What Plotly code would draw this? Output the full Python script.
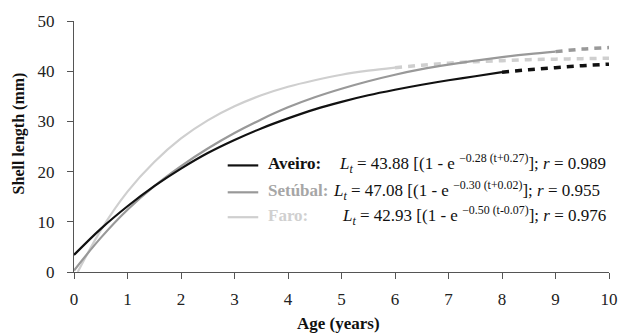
import plotly.graph_objects as go

# ---- data ----
aveiro_age = [0, 0.5, 1, 1.5, 2, 2.5, 3, 3.5, 4, 4.5, 5, 5.5, 6, 6.5, 7, 7.5, 8]
aveiro_len = [3.4, 8.6, 13.1, 17.1, 20.6, 23.7, 26.3, 28.6, 30.6, 32.4, 33.9, 35.2, 36.3, 37.3, 38.2, 39.0, 39.8]
aveiro_ext_age = [8, 8.5, 9, 9.5, 10]
aveiro_ext_len = [39.8, 40.3, 40.7, 41.1, 41.4]

setubal_age = [0, 0.5, 1, 1.5, 2, 2.5, 3, 3.5, 4, 4.5, 5, 5.5, 6, 6.5, 7, 7.5, 8, 8.5, 9]
setubal_len = [0.3, 6.8, 12.4, 17.1, 21.1, 24.6, 27.7, 30.4, 32.8, 34.8, 36.5, 38.0, 39.3, 40.4, 41.3, 42.1, 42.8, 43.4, 43.9]
setubal_ext_age = [9, 9.5, 10]
setubal_ext_len = [43.9, 44.4, 44.7]

faro_age = [0.07, 0.5, 1, 1.5, 2, 2.5, 3, 3.5, 4, 4.5, 5, 5.5, 6]
faro_len = [0.0, 8.3, 16.0, 21.9, 26.6, 30.2, 33.0, 35.2, 36.9, 38.2, 39.3, 40.1, 40.7]
faro_ext_age = [6, 6.5, 7, 7.5, 8, 8.5, 9, 9.5, 10]
faro_ext_len = [40.7, 41.2, 41.6, 41.9, 42.1, 42.3, 42.4, 42.5, 42.6]

x_ticks = [0, 1, 2, 3, 4, 5, 6, 7, 8, 9, 10]
y_ticks = [0, 10, 20, 30, 40, 50]

legend_names = ["Aveiro:", "Setúbal:", "Faro:"]
legend_formulas = [
    "<i>L</i><sub><i>t</i></sub> = 43.88 [(1 - e <sup>\u22120.28 (t+0.27)</sup>]; <i>r</i> = 0.989",
    "<i>L</i><sub><i>t</i></sub> = 47.08 [(1 - e <sup>\u22120.30 (t+0.02)</sup>]; <i>r</i> = 0.955",
    "<i>L</i><sub><i>t</i></sub> = 42.93 [(1 - e <sup>\u22120.50 (t-0.07)</sup>]; <i>r</i> = 0.976",
]

# ---- style ----
FONT = "Liberation Serif"
C_AV, C_SE, C_FA = "#111111", "#999999", "#cfcfcf"
C_SE_TXT, C_FA_TXT = "#a6a6a6", "#d0d0d0"

fig = go.Figure()
series = [
    (aveiro_age, aveiro_len, aveiro_ext_age, aveiro_ext_len, C_AV),
    (setubal_age, setubal_len, setubal_ext_age, setubal_ext_len, C_SE),
    (faro_age, faro_len, faro_ext_age, faro_ext_len, C_FA),
]
for a, l, ea, el, c in series:
    fig.add_trace(go.Scatter(x=ea, y=el, mode="lines", showlegend=False, hoverinfo="skip",
                             line=dict(color=c, width=3.5, dash="7px,6px", shape="spline")))
for a, l, ea, el, c in reversed(series):
    fig.add_trace(go.Scatter(x=a, y=l, mode="lines", showlegend=False,
                             line=dict(color=c, width=2.2, shape="spline")))

L, R, T, B = 74, 13, 20, 62
W, H = 630, 334
pw, ph = W - L - R, H - T - B

def px(xp):
    return (xp - L) / pw

def py(yp):
    return (H - B - yp) / ph

shapes = []
annotations = []
row_y = [165, 192, 217]
name_cols = [C_AV, C_SE_TXT, C_FA_TXT]
line_cols = [C_AV, C_SE, C_FA]
formula_x = [341, 335, 344]
for i in range(3):
    shapes.append(dict(type="line", xref="paper", yref="paper",
                       x0=px(230), x1=px(261), y0=py(row_y[i]), y1=py(row_y[i]),
                       line=dict(color=line_cols[i], width=2.2)))
    annotations.append(dict(xref="paper", yref="paper", x=px(269), y=py(row_y[i] - 2),
                            xanchor="left", yanchor="middle", showarrow=False,
                            text="<b>" + legend_names[i] + "</b>",
                            font=dict(family=FONT, size=17, color=name_cols[i])))
    annotations.append(dict(xref="paper", yref="paper", x=px(formula_x[i]), y=py(row_y[i] - 2),
                            xanchor="left", yanchor="middle", showarrow=False,
                            text=legend_formulas[i],
                            font=dict(family=FONT, size=17, color="#111111")))

annotations.append(dict(xref="paper", yref="paper", x=px(342), y=py(324),
                        xanchor="center", yanchor="middle", showarrow=False,
                        text="<b>Age (years)</b>", font=dict(family=FONT, size=17, color="#111111")))
annotations.append(dict(xref="paper", yref="paper", x=px(18), y=py(133),
                        xanchor="center", yanchor="middle", showarrow=False, textangle=-90,
                        text="<b>Shell length (mm)</b>", font=dict(family=FONT, size=16, color="#111111")))

fig.update_layout(
    width=W, height=H, margin=dict(l=L, r=R, t=T, b=B),
    paper_bgcolor="white", plot_bgcolor="white",
    font=dict(family=FONT, size=16, color="#222222"),
    shapes=shapes, annotations=annotations,
    xaxis=dict(range=[0, 10], tickvals=x_ticks, showgrid=False, zeroline=False,
               showline=True, linecolor="#555555", linewidth=1.2,
               ticks="outside", ticklen=6, tickcolor="#555555", tickwidth=1.2,
               ticklabelstandoff=5,
               tickfont=dict(family=FONT, size=17, color="#222222")),
    yaxis=dict(range=[0, 50], tickvals=y_ticks, showgrid=False, zeroline=False,
               showline=True, linecolor="#555555", linewidth=1.2,
               ticks="outside", ticklen=6, tickcolor="#555555", tickwidth=1.2,
               ticklabelstandoff=9,
               tickfont=dict(family=FONT, size=17, color="#222222")),
)

fig.write_html("out.html")
